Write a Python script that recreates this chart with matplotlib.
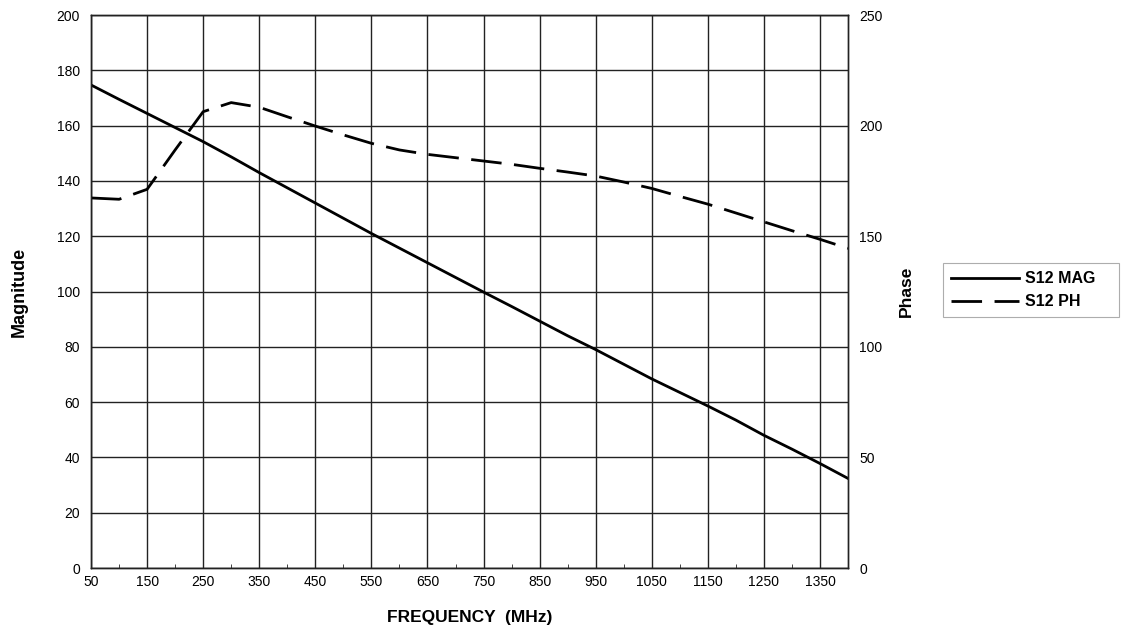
import numpy as np
import matplotlib.pyplot as plt
from matplotlib.ticker import MultipleLocator

plt.rcParams['font.family'] = ['Liberation Sans', 'DejaVu Sans']

# S12 data
freq = [50, 100, 150, 200, 250, 300, 350, 400, 450, 500, 550, 600, 650, 700,
        750, 800, 850, 900, 950, 1000, 1050, 1100, 1150, 1200, 1250, 1300, 1350, 1400]
s12_mag = [174.7, 169.5, 164.4, 159.3, 154.2, 148.7, 143.0, 137.5, 132.0, 126.5,
           121.0, 115.7, 110.4, 105.1, 99.8, 94.6, 89.3, 84.0, 79.0, 73.7,
           68.4, 63.5, 58.6, 53.5, 48.0, 43.0, 37.8, 32.4]
s12_ph = [167.3, 166.7, 171.2, 189.0, 206.3, 210.4, 208.3, 204.0, 199.8, 195.8,
          192.0, 189.0, 187.0, 185.5, 184.0, 182.5, 180.7, 179.0, 177.2, 174.5,
          171.6, 168.0, 164.5, 160.5, 156.5, 152.5, 148.6, 144.5]

x_ticks = list(range(50, 1351, 100))


def main():
    fig = plt.figure(figsize=(11.25, 6.28), dpi=100)
    ax = fig.add_axes([0.0809, 0.0955, 0.6729, 0.8806])
    ax2 = ax.twinx()

    ax.set_xlim(50, 1400)
    ax.set_ylim(0, 200)
    ax2.set_ylim(0, 250)
    ax.set_xticks(x_ticks)
    ax.xaxis.set_minor_locator(MultipleLocator(100))
    ax.yaxis.set_major_locator(MultipleLocator(20))
    ax2.yaxis.set_major_locator(MultipleLocator(50))

    ax.grid(True, which='major', color='#222222', linewidth=1.0)
    ax.set_axisbelow(True)

    for a in (ax, ax2):
        for s in a.spines.values():
            s.set_color('#222222')
            s.set_linewidth(1.0)
        a.tick_params(labelsize=10, length=0, pad=8)
    ax.tick_params(axis='x', pad=5)
    ax.tick_params(axis='x', which='minor', direction='in', length=3, color='#222222')

    l1, = ax.plot(freq, s12_mag, color='black', linewidth=2.0, label='S12 MAG')
    l2, = ax2.plot(freq, s12_ph, color='black', linewidth=2.0,
                   dashes=(11, 4.5), label='S12 PH')

    ax.set_xlabel('FREQUENCY  (MHz)', fontsize=12.5, fontweight='bold', labelpad=15.5)
    ax.set_ylabel('Magnitude', fontsize=13, fontweight='bold', labelpad=20.5)
    ax2.set_ylabel('Phase', fontsize=12.5, fontweight='bold', labelpad=12)

    # legend box stretched to the width seen in the reference
    leg = fig.legend([l1, l2], ['S12 MAG', 'S12 PH'], loc='upper left',
                     bbox_to_anchor=(0.838, 0.491, 0.157, 0.09), mode='expand',
                     borderaxespad=0, frameon=True, fancybox=False,
                     prop={'size': 11.5, 'weight': 'bold'}, handlelength=4.25,
                     borderpad=0.5, labelspacing=0.5, handletextpad=0.4)
    leg.get_frame().set_edgecolor('#999999')
    leg.get_frame().set_linewidth(0.8)

    fig.savefig('out.png', dpi=100)


if __name__ == '__main__':
    main()
